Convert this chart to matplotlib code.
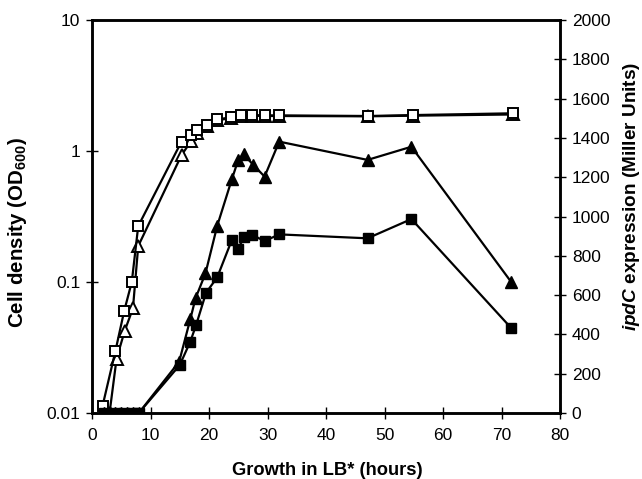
import numpy as np
import matplotlib.pyplot as plt

plt.rcParams['font.family'] = ['Liberation Sans', 'DejaVu Sans']
plt.rcParams['mathtext.fontset'] = 'custom'
plt.rcParams['mathtext.rm'] = 'Liberation Sans:bold'
plt.rcParams['mathtext.it'] = 'Liberation Sans:bold:italic'
plt.rcParams['mathtext.bf'] = 'Liberation Sans:bold'

# Cell density (OD600), left axis
sq_open_t = [1.8, 4.0, 5.5, 6.8, 7.9, 15.3, 17.0, 17.9, 19.6, 21.4, 23.8, 25.4, 27.4, 29.6, 32.0, 47.2, 54.8, 71.9]
sq_open_od = [0.0113, 0.0297, 0.060, 0.100, 0.267, 1.18, 1.32, 1.44, 1.58, 1.74, 1.81, 1.88, 1.88, 1.87, 1.87, 1.85, 1.88, 1.94]

tri_open_t = [3.0, 4.2, 5.6, 7.0, 7.9, 15.3, 17.0, 17.9, 19.6, 21.4, 23.8, 25.4, 27.4, 29.6, 32.0, 47.2, 54.8, 71.9]
tri_open_od = [0.010, 0.026, 0.0425, 0.063, 0.188, 0.93, 1.20, 1.38, 1.55, 1.72, 1.78, 1.85, 1.86, 1.85, 1.85, 1.84, 1.86, 1.90]

# ipdC expression (Miller Units), right axis
tri_fill_t = [2, 3, 4, 5, 6, 7, 8, 14.9, 16.8, 17.7, 19.4, 21.4, 23.9, 25.0, 25.9, 27.6, 29.5, 32.0, 47.1, 54.6, 71.7]
tri_fill_mu = [0, 0, 0, 0, 0, 0, 0, 261, 477, 584, 711, 952, 1189, 1288, 1316, 1262, 1203, 1381, 1288, 1355, 665]

sq_fill_t = [2, 4, 5.5, 7, 8, 15.0, 16.8, 17.8, 19.5, 21.4, 23.9, 25.0, 25.9, 27.4, 29.5, 32.0, 47.1, 54.6, 71.7]
sq_fill_mu = [0, 0, 0, 0, 0, 244, 363, 448, 612, 690, 880, 833, 894, 906, 875, 909, 889, 987, 431]

fig = plt.figure(figsize=(6.42, 4.79), dpi=100)
ax = fig.add_axes([92 / 642, 1 - 413 / 479, 468 / 642, 393 / 479])
ax2 = ax.twinx()

ax.plot(tri_open_t, tri_open_od, color='black', lw=1.6, marker='^', ms=8,
        mfc='white', mec='black', mew=1.4, zorder=3)
ax.plot(sq_open_t, sq_open_od, color='black', lw=1.6, marker='s', ms=7.5,
        mfc='white', mec='black', mew=1.4, zorder=4)

ax2.plot(tri_fill_t, tri_fill_mu, color='black', lw=1.6, marker='^', ms=8.5,
         mfc='black', mec='black')
ax2.plot(sq_fill_t, sq_fill_mu, color='black', lw=1.6, marker='s', ms=6.5,
         mfc='black', mec='black')

ax.set_yscale('log')
ax.set_ylim(0.01, 10)
ax.set_xlim(0, 80)
ax2.set_ylim(0, 2000)
ax.set_xticks(np.arange(0, 81, 10))
ax.set_yticks([0.01, 0.1, 1, 10])
ax.set_yticklabels(['0.01', '0.1', '1', '10'])
ax.yaxis.set_minor_locator(plt.NullLocator())
ax2.set_yticks(np.arange(0, 2001, 200))

for a in (ax, ax2):
    for s in a.spines.values():
        s.set_linewidth(1.8)
    a.tick_params(direction='inout', length=9, width=1, labelsize=12.5, pad=4)
ax.tick_params(axis='x', pad=6)

ax.set_xlabel('Growth in LB* (hours)', fontsize=13.2, fontweight='bold')
ax.set_ylabel('Cell density (OD$_{600}$)', fontsize=14.8, fontweight='bold')
ax2.set_ylabel(r'$\it{ipdC}$ expression (Miller Units)', fontsize=13.7, fontweight='bold')
ax.xaxis.set_label_coords(0.502, -0.125)
ax.yaxis.set_label_coords(-0.135, 0.46)
ax2.yaxis.set_label_coords(1.130, 0.552)

fig.savefig('out.png', dpi=100)
